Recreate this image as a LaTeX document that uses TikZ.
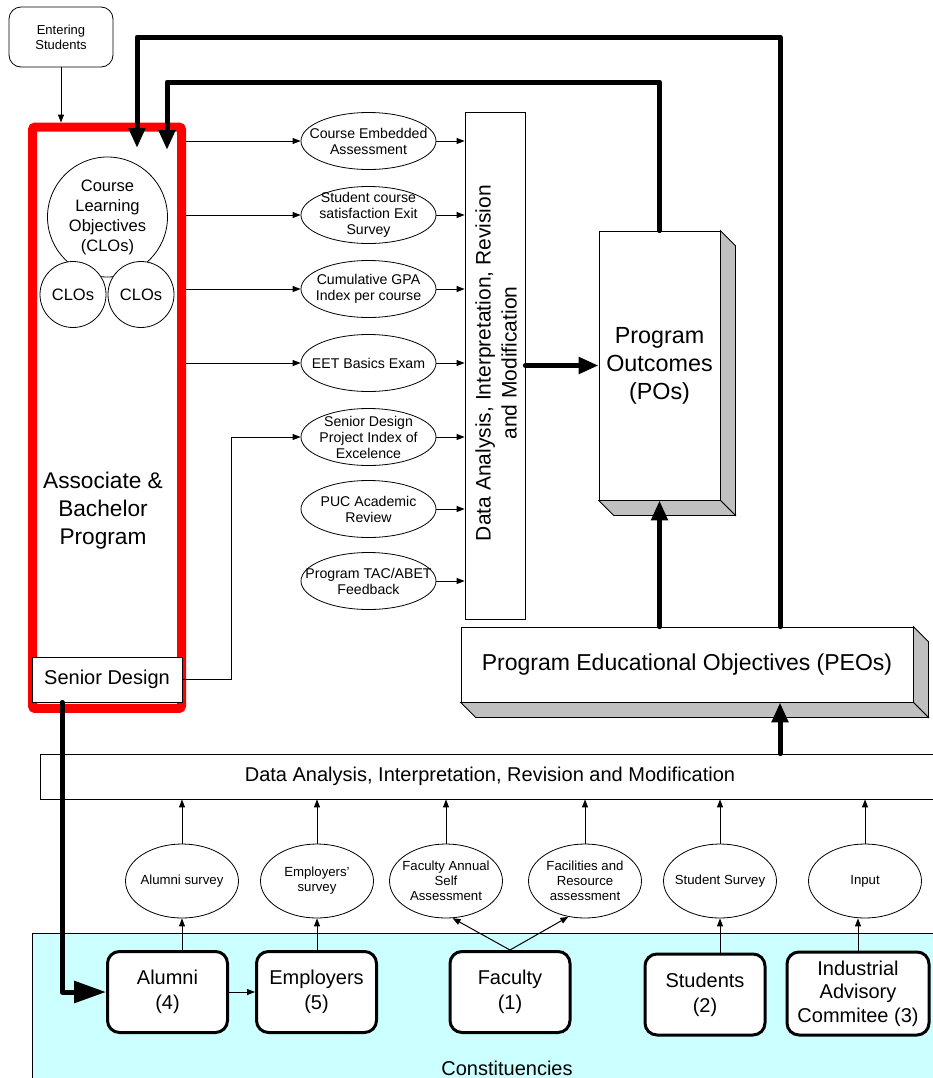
\documentclass[tikz,border=0pt]{standalone}
\usepackage{fontspec}
\setmainfont{Liberation Sans}
\usetikzlibrary{arrows.meta,calc,shapes.geometric}
\definecolor{cyanbg}{HTML}{CCFFFF}
\definecolor{shade}{HTML}{C0C0C0}
\begin{document}
\begin{tikzpicture}[x=0.75pt,y=-0.75pt,
  thinline/.style={line width=0.75pt},
  thinarrow/.style={line width=0.75pt,-{Triangle[length=6pt,width=4.5pt]}},
  thickarrow/.style={line width=3.75pt,line cap=round,line join=round,-{Triangle[length=15pt,width=12pt]}},
  ell/.style={ellipse,draw,line width=0.6pt,fill=white,inner sep=0pt,minimum width=101.25pt,minimum height=42.75pt},
  etxt/.style={align=center,inner sep=0pt,font=\fontsize{10.6pt}{12pt}\selectfont},
  bell/.style={ellipse,draw,line width=0.6pt,fill=white,inner sep=0pt,minimum width=84.75pt,minimum height=55.5pt},
  btxt/.style={align=center,inner sep=0pt,font=\fontsize{9.9pt}{11.25pt}\selectfont},
  cbox/.style={draw,line width=2.25pt,rounded corners=9pt,fill=white,minimum width=90pt,minimum height=60.75pt,align=center,font=\fontsize{15pt}{18.75pt}\selectfont},
  plainbox/.style={draw,line width=0.6pt,fill=white,inner sep=0pt}
]
\useasboundingbox (0,0) rectangle (932,1078);

% helper coordinates
\coordinate (oA) at (137,37);
\coordinate (oB) at (780,37);
\coordinate (tipA) at (137,148);
\coordinate (iA) at (167,82);
\coordinate (iB) at (659.5,82);
\coordinate (tipB) at (167,150);
\coordinate (sdx) at (231,680);
\coordinate (dn) at (62,700);

% constituencies background
\filldraw[fill=cyanbg,line width=0.6pt] (32,933) rectangle (950,1095);
\node[font=\fontsize{15pt}{18pt}\selectfont] (constt) at (507,1068) {Constituencies};

% bottom data bar
\node[plainbox,minimum width=675pt,minimum height=33.75pt,font=\fontsize{15pt}{18pt}\selectfont] (bar) at (490,776.5) {Data Analysis, Interpretation, Revision and Modification};

% entering students
\node[draw,line width=0.6pt,rounded corners=9pt,minimum width=78pt,minimum height=45pt,align=center,font=\fontsize{9.75pt}{11.25pt}\selectfont] (enter) at (61,37) {Entering\\Students};

% program box
\node[draw=red,line width=6.75pt,rounded corners=2pt,minimum width=111.75pt,minimum height=436.1pt,inner sep=0pt] (prog) at (107,417.75) {};
\node[circle,draw,line width=0.6pt,fill=white,minimum size=90pt,inner sep=0pt] (clo) at (107.5,217) {};
\node[align=center,inner sep=0pt,font=\fontsize{12.4pt}{15pt}\selectfont] (clot) at (107.5,217) {Course\\Learning\\Objectives\\(CLOs)};
\node[circle,draw,line width=0.6pt,fill=white,minimum size=49.5pt,inner sep=0pt,font=\fontsize{12.4pt}{15pt}\selectfont] (cloL) at (73,294.5) {CLOs};
\node[circle,draw,line width=0.6pt,fill=white,minimum size=49.5pt,inner sep=0pt,font=\fontsize{12.4pt}{15pt}\selectfont] (cloR) at (141,294.5) {CLOs};
\node[align=center,font=\fontsize{17pt}{21pt}\selectfont] (assoc) at (103,511) {Associate \&\\Bachelor\\Program};
\node[plainbox,minimum width=112.5pt,minimum height=33.75pt,font=\fontsize{15pt}{18pt}\selectfont] (sd) at (107,679.5) {Senior Design};

% assessment ellipses
\node[ell] (e1) at (368.5,141) {};
\node[etxt] (e1t) at (e1) {Course Embedded\\Assessment};
\node[ell] (e2) at (368.5,215) {};
\node[etxt] (e2t) at (e2) {Student course\\satisfaction Exit\\Survey};
\node[ell] (e3) at (368.5,289) {};
\node[etxt] (e3t) at (e3) {Cumulative GPA\\Index per course};
\node[ell] (e4) at (368.5,363) {};
\node[etxt] (e4t) at (e4) {EET Basics Exam};
\node[ell] (e5) at (368.5,437) {};
\node[etxt] (e5t) at (e5) {Senior Design\\Project Index of\\Excelence};
\node[ell] (e6) at (368.5,509) {};
\node[etxt] (e6t) at (e6) {PUC Academic\\Review};
\node[ell] (e7) at (368.5,581) {};
\node[etxt] (e7t) at (e7) {Program TAC/ABET\\Feedback};

% vertical data analysis box
\node[plainbox,minimum width=45pt,minimum height=380.25pt] (data) at (495,365.5) {};
\node[rotate=90,align=center,inner sep=0pt,font=\fontsize{15.75pt}{19.5pt}\selectfont] (datat) at (496,363) {Data Analysis, Interpretation, Revision\\and Modification};

% program outcomes
\node[plainbox,minimum width=90.75pt,minimum height=201.75pt,align=center,font=\fontsize{17.5pt}{21pt}\selectfont] (po) at (659.5,365.5) {Program\\Outcomes\\(POs)};
\filldraw[fill=shade,line width=0.6pt] (po.north east) -- ++(15,15) -- ($(po.south east)+(15,15)$) -- (po.south east) -- cycle;
\filldraw[fill=shade,line width=0.6pt] (po.south west) -- ++(15,15) -- ($(po.south east)+(15,15)$) -- (po.south east) -- cycle;

% PEOs
\node[plainbox,minimum width=339pt,minimum height=56.25pt,font=\fontsize{17.25pt}{21pt}\selectfont] (peo) at (687,664.5) {Program Educational Objectives (PEOs)};
\filldraw[fill=shade,line width=0.6pt] (peo.north east) -- ++(15,15) -- ($(peo.south east)+(15,15)$) -- (peo.south east) -- cycle;
\filldraw[fill=shade,line width=0.6pt] (peo.south west) -- ++(15,15) -- ($(peo.south east)+(15,15)$) -- (peo.south east) -- cycle;

% bottom ellipses
\node[bell] (b1) at (182,881) {};
\node[btxt] (b1t) at (b1) {Alumni survey};
\node[bell] (b2) at (317,881) {};
\node[btxt] (b2t) at (b2) {Employers'\\survey};
\node[bell] (b3) at (446,881) {};
\node[btxt] (b3t) at (b3) {Faculty Annual\\Self\\Assessment};
\node[bell] (b4) at (585,881) {};
\node[btxt] (b4t) at (b4) {Facilities and\\Resource\\assessment};
\node[bell] (b5) at (720,881) {};
\node[btxt] (b5t) at (b5) {Student Survey};
\node[bell] (b6) at (865,881) {};
\node[btxt] (b6t) at (b6) {Input};

% constituencies
\node[cbox] (alumni) at (167.5,992) {Alumni\\(4)};
\node[cbox] (emp) at (316.5,992) {Employers\\(5)};
\node[cbox] (fac) at (510,992) {Faculty\\(1)};
\node[cbox] (stu) at (705,994.5) {Students\\(2)};
\node[cbox,minimum width=106.5pt,minimum height=62.25pt,font=\fontsize{15pt}{17.5pt}\selectfont] (iac) at (858,993.5) {Industrial\\Advisory\\Commitee (3)};

% thin connectors
\draw[thinarrow] (enter.south) -- (enter.south |- prog.north);
\foreach \i in {1,2,3,4} {\draw[thinarrow] (prog.east |- e\i) -- (e\i.west);}
\foreach \i in {1,...,7} {\draw[thinarrow] (e\i.east) -- (e\i.east -| data.west);}
\draw[thinarrow] (sd.east) -- (sd.east -| sdx) -- (sdx |- e5) -- (e5.west);
\foreach \i in {1,...,6} {\draw[thinarrow] (b\i.north) -- (b\i.north |- bar.south);}
\draw[thinarrow] (alumni.north -| b1) -- (b1.south);
\draw[thinarrow] (emp.north -| b2) -- (b2.south);
\draw[thinarrow] (fac.north) -- (b3.-80);
\draw[thinarrow] (fac.north) -- (b4.-115);
\draw[thinarrow] (stu.north -| b5) -- (b5.south);
\draw[thinarrow] (iac.north) -- (iac.north |- b6.south);
\draw[thinarrow] (alumni.east) -- (emp.west);

% thick connectors
\draw[thickarrow] (data.east) -- (po.west);
\draw[thickarrow] (peo.north -| po.south) -- (po.south);
\draw[thickarrow] (bar.north -| oB) -- (peo.south -| oB);
\draw[thickarrow] (peo.north -| oB) -- (oB) -- (oA) -- (tipA);
\draw[thickarrow] (po.north) -- (iB) -- (iA) -- (tipB);
\draw[line width=3.75pt,line cap=round,line join=round,-{Triangle[length=24pt,width=16pt]}] (sd.south -| dn) -- (dn |- alumni.west) -- (alumni.west);
\end{tikzpicture}
\end{document}
